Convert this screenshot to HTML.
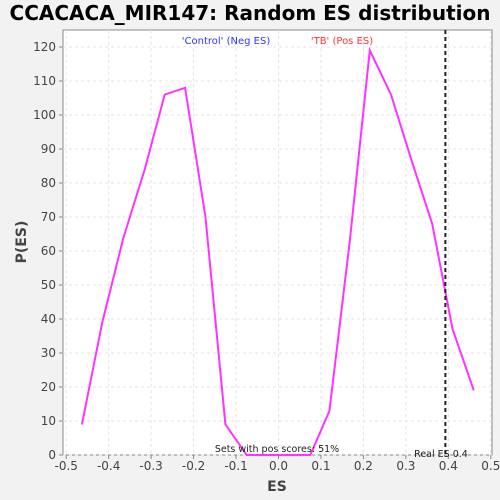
<!DOCTYPE html>
<html><head><style>
body{margin:0;background:#f2f2f2;}
svg{display:block;font-family:"DejaVu Sans","Liberation Sans",sans-serif;}
</style></head><body>
<svg id="c" width="500" height="500">
<text x="250" y="20" text-anchor="middle" font-size="20" font-weight="bold" fill="#000">CCACACA_MIR147: Random ES distribution</text>
<rect x="63" y="30" width="429" height="425" fill="#fff" stroke="#888"/>
<g id="grid"></g><g id="ticks"></g>
<text x="226" y="44" text-anchor="middle" font-size="10" fill="#3333ff">'Control' (Neg ES)</text>
<text x="342" y="44" text-anchor="middle" font-size="10" fill="#ff3333">'TB' (Pos ES)</text>
<polyline id="line" fill="none" stroke="#ff33ff" stroke-width="2"/>
<line id="real" stroke="#222" stroke-width="2" stroke-dasharray="4,3"/>
<text x="277" y="452" text-anchor="middle" font-size="9.5" fill="#222">Sets with pos scores: 51%</text>
<text x="441" y="457" text-anchor="middle" font-size="9.5" fill="#222">Real ES 0.4</text>
<text x="277" y="491" text-anchor="middle" font-size="14" font-weight="bold" fill="#444">ES</text>
<text x="26" y="242" text-anchor="middle" font-size="14" font-weight="bold" fill="#444" transform="rotate(-90 26 242)">P(ES)</text>
</svg>
<script>
const esValues=[-0.463,-0.415,-0.365,-0.315,-0.268,-0.22,-0.172,-0.125,-0.075,-0.025,0.025,0.075,0.12,0.168,0.215,0.265,0.315,0.362,0.41,0.46];
const counts=[9,39,64,84,106,108,70,9,0,0,0,0,13,63,119,106,86,68,37,19];
const xTicks=[-0.5,-0.4,-0.3,-0.2,-0.1,0.0,0.1,0.2,0.3,0.4,0.5];
const yTicks=[0,10,20,30,40,50,60,70,80,90,100,110,120];
const realES=0.393;
const NS="http://www.w3.org/2000/svg";
function xs(v){return 278.5+v*424.6;}
function ys(v){return 455-v*3.4;}
const g=document.getElementById('grid'),t=document.getElementById('ticks');
function mk(p,tag,a){const e=document.createElementNS(NS,tag);for(const k in a)e.setAttribute(k,a[k]);p.appendChild(e);return e;}
xTicks.forEach(v=>{
 const gl=mk(g,'line',{x1:xs(v),x2:xs(v),y1:30,y2:455,stroke:'#e4e4e4','stroke-dasharray':'3,3'});
 
 
 mk(t,'line',{x1:xs(v),x2:xs(v),y1:455,y2:459,stroke:'#888'});
 const tx=mk(t,'text',{x:xs(v),y:470,'text-anchor':'middle','font-size':'12',fill:'#444'});
 tx.textContent=v.toFixed(1);
 
 
});
yTicks.forEach(v=>{
 const gl=mk(g,'line',{x1:63,x2:492,y1:ys(v),y2:ys(v),stroke:'#e4e4e4','stroke-dasharray':'3,3'});
 
 
 mk(t,'line',{x1:59,x2:63,y1:ys(v),y2:ys(v),stroke:'#888'});
 const tx=mk(t,'text',{x:56,y:ys(v)+4,'text-anchor':'end','font-size':'12',fill:'#444'});
 tx.textContent=v;
 
 
});
document.getElementById('line').setAttribute('points',esValues.map((v,i)=>xs(v)+','+ys(counts[i])).join(' '));
const r=document.getElementById('real');
r.setAttribute('x1',xs(realES));r.setAttribute('x2',xs(realES));r.setAttribute('y1',30);r.setAttribute('y2',455);
</script>
</body></html>
